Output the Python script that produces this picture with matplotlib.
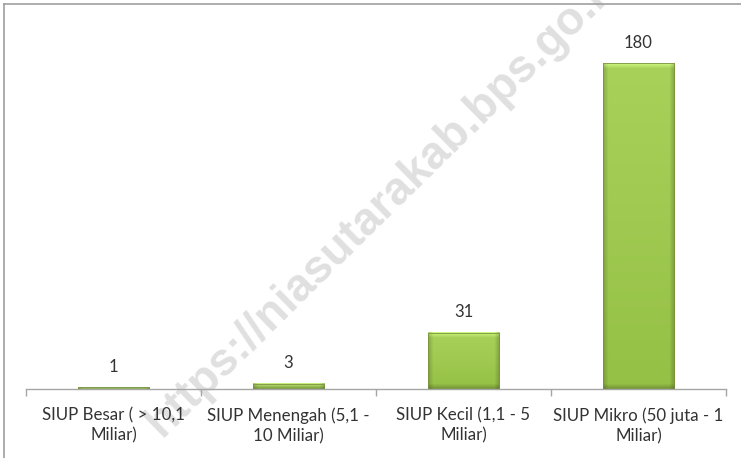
import numpy as np
import matplotlib
matplotlib.use('Agg')
import matplotlib.pyplot as plt
from matplotlib.lines import Line2D

categories = ['SIUP Besar ( > 10,1\nMiliar)', 'SIUP Menengah (5,1 -\n10 Miliar)',
              'SIUP Kecil (1,1 - 5\nMiliar)', 'SIUP Mikro (50 juta - 1\nMiliar)']
values = [1, 3, 31, 180]

plt.rcParams['font.family'] = ['Lato', 'DejaVu Sans']

fig = plt.figure(figsize=(7.41, 4.58), dpi=100)
ax = fig.add_axes([26 / 741, 1 - 389 / 458, 700 / 741, 362 / 458])

x = np.arange(len(values))
bar_w = 0.41
ymax = 200
ax.set_xlim(-0.5, len(values) - 0.5)
ax.set_ylim(0, ymax)

# bevel shaded bars
px_per_x = 700 / len(values)
px_per_y = 362 / ymax
top_c = np.array([0.70, 0.85, 0.40])
mid_c = np.array([0.62, 0.79, 0.30])
bot_c = np.array([0.55, 0.72, 0.25])
for xi, v in zip(x, values):
    wpx = int(bar_w * px_per_x)
    hpx = max(int(v * px_per_y), 2)
    yy, xx = np.mgrid[0:hpx, 0:wpx]
    t = yy / max(hpx - 1, 1)  # 0 top, 1 bottom
    base = top_c[None, None, :] * (1 - t[..., None]) + bot_c[None, None, :] * t[..., None]
    base = base * 0.5 + mid_c * 0.5
    img = base.copy()
    bev = 5.0
    dl = xx / bev
    dr = (wpx - 1 - xx) / bev
    dt = yy / bev
    db = (hpx - 1 - yy) / bev
    shade = np.ones((hpx, wpx))
    shade = np.where(dl < 1, shade * (0.82 + 0.18 * dl), shade)
    shade = np.where(dr < 1, shade * (0.80 + 0.20 * dr), shade)
    shade = np.where(db < 1, shade * (0.78 + 0.22 * db), shade)
    img = img * shade[..., None]
    light = np.where(dt < 1, (1 - dt) * 0.15, 0)
    img = img + light[..., None]
    img = np.clip(img, 0, 1)
    ax.imshow(img, extent=(xi - bar_w / 2, xi + bar_w / 2, 0, v), aspect='auto',
              interpolation='bilinear', zorder=2)
    ax.plot([xi - bar_w / 2, xi + bar_w / 2, xi + bar_w / 2, xi - bar_w / 2, xi - bar_w / 2],
            [0, 0, v, v, 0], color='#7a9340', lw=0.6, zorder=3)
    ax.annotate(str(v), (xi, v), xytext=(0, 9), textcoords='offset points',
                ha='center', va='bottom', fontsize=12, color='#333333')

ax.set_aspect('auto')
for s in ['top', 'right', 'left']:
    ax.spines[s].set_visible(False)
ax.spines['bottom'].set_color('#a6a6a6')
ax.spines['bottom'].set_linewidth(1.0)
ax.set_yticks([])
ax.set_xticks(np.arange(-0.5, len(values), 1.0))
ax.set_xticklabels([])
ax.set_xticks(x, minor=True)
ax.set_xticklabels(categories, minor=True, fontsize=12.2, color='#333333', linespacing=1.33)
ax.tick_params(axis='x', which='major', length=5, color='#a6a6a6', width=1.0)
ax.tick_params(axis='x', which='minor', length=0, pad=13)

# watermark
ax.text(0.521, 0.563, 'https://niasutarakab.bps.go.id', fontsize=33, fontweight='bold',
        family='Liberation Sans', color='#e0e0e0', rotation=44.5,
        ha='center', va='center', rotation_mode='anchor',
        transform=fig.transFigure, zorder=0.5, clip_on=False)

# chart border (left and top)
fig.add_artist(Line2D([3.5 / 741, 3.5 / 741], [0, 1 - 4 / 458], transform=fig.transFigure,
                      color='#a0a0a0', lw=1.2))
fig.add_artist(Line2D([3.5 / 741, 1], [1 - 4 / 458, 1 - 4 / 458], transform=fig.transFigure,
                      color='#a0a0a0', lw=1.2))

fig.savefig('out.png', dpi=100)
